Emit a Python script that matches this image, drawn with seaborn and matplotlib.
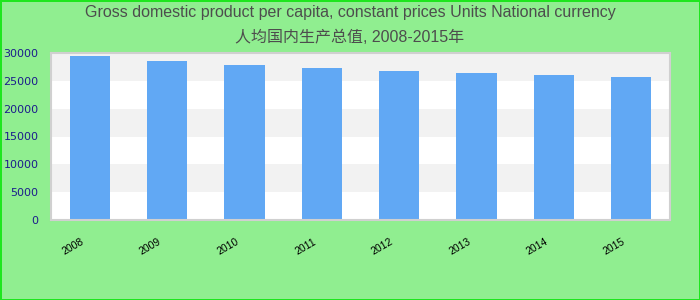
import matplotlib
matplotlib.use("Agg")
import matplotlib.pyplot as plt
import seaborn as sns
import pandas as pd
import numpy as np

years = ["2008", "2009", "2010", "2011", "2012", "2013", "2014", "2015"]
gdp_per_capita = [29550, 28650, 27930, 27390, 26850, 26490, 26130, 25770]
y_ticks = [0, 5000, 10000, 15000, 20000, 25000, 30000]
title_line1 = "Gross domestic product per capita, constant prices Units National currency"
title_line2 = "人均国内生产总值, 2008-2015年"

sns.set_theme(style="white")
plt.rcParams["font.family"] = ["Liberation Sans", "Noto Sans CJK SC", "DejaVu Sans"]

df = pd.DataFrame({"year": years, "value": gdp_per_capita})

fig = plt.figure(figsize=(7, 3), dpi=100, facecolor="#90ee90",
                 edgecolor="#1ee61e", linewidth=2)
ax = fig.add_axes([0.0729, 0.2667, 0.8843, 0.5566])
ax.set_facecolor("white")

# alternating bands
for i in range(len(y_ticks) - 1):
    if i % 2 == 1:
        ax.axhspan(y_ticks[i], y_ticks[i + 1], color="#f2f2f2", zorder=0, lw=0)

sns.barplot(data=df, x="year", y="value", color="#61a8f4", width=0.52,
            saturation=1, ax=ax, zorder=2, linewidth=0, edgecolor="none")

ax.set_xlim(-0.5, len(years) - 0.5)
ax.set_ylim(0, 30000)
ax.set_yticks(y_ticks)
ax.set_yticklabels([str(t) for t in y_ticks], fontsize=8, color="#1c1c8c",
                   family="DejaVu Sans")
# labels sit slightly left of bar centres, as in the reference
ax.set_xticks(np.arange(len(years)) - 0.12)
ax.set_xticklabels(years, rotation=30, ha="right", rotation_mode="anchor",
                   fontsize=7.5, color="black")
ax.tick_params(axis="both", length=0)
ax.tick_params(axis="y", pad=9)
ax.tick_params(axis="x", pad=12)
ax.set_xlabel("")
ax.set_ylabel("")
for s in ax.spines.values():
    s.set_color("#d0d0d0")
    s.set_linewidth(1.5)

fig.text(0.5, 1 - 13 / 300, title_line1, ha="center", va="center",
         fontsize=11.5, color="#4d4d4d")
fig.text(0.5, 1 - 37 / 300, title_line2, ha="center", va="center",
         fontsize=11.5, color="#4d4d4d")

fig.savefig("out.png", dpi=100, facecolor=fig.get_facecolor(),
            edgecolor=fig.get_edgecolor())
